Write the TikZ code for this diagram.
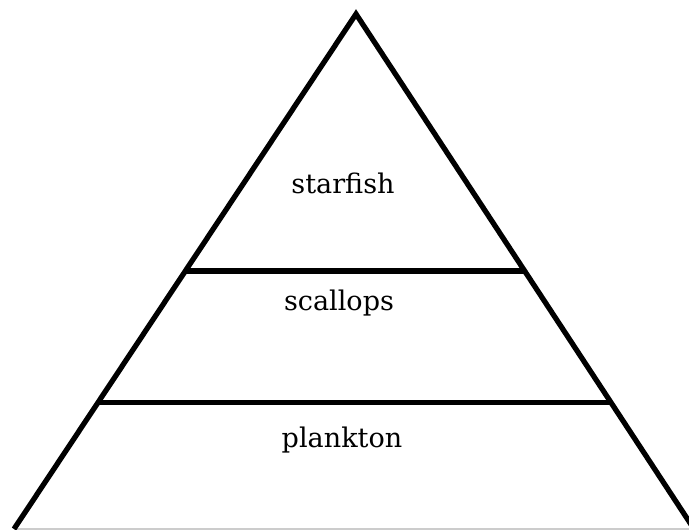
\documentclass[tikz,border=0pt]{standalone}
\usepackage{fontspec}
\setmainfont{DejaVu Serif}
\usetikzlibrary{positioning, calc}

\begin{document}
\begin{tikzpicture}[x=0.02cm, y=-0.02cm,
  edge/.style={line width=3pt, line join=miter},
  level/.style={font=\fontsize{15.4}{18}\selectfont}]

% Fix the canvas to the reference size
\useasboundingbox (0,0) rectangle (689,530);

% Corners of the pyramid
\coordinate (apex) at (356,14);
\coordinate (bl) at (14,529);
\coordinate (br) at (694,529);

% Faint base line
\draw[gray!40, line width=0.8pt] (bl) -- (689,529);

% Sides of the pyramid
\draw[edge] (bl) -- (apex) -- (br);

% Dividers between the levels
\draw[edge] ($(bl)!0.501!(apex)$) -- ($(br)!0.501!(apex)$);
\draw[edge] ($(bl)!0.245!(apex)$) -- ($(br)!0.245!(apex)$);

% Level labels
\node[level] (lvl_top) at (343,183) {starfish};
\node[level] (lvl_mid) at (339,303) {scallops};
\node[level] (lvl_low) at (342,440) {plankton};

\end{tikzpicture}
\end{document}
